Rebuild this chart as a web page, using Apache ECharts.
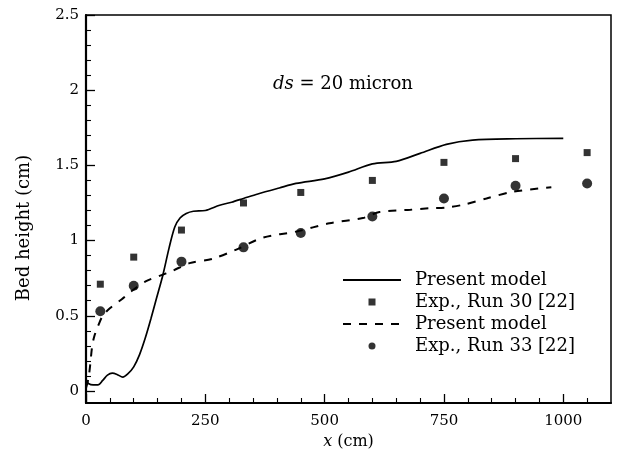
<!DOCTYPE html>
<html>
<head>
<meta charset="utf-8">
<title>Bed height</title>
<script src="https://cdn.jsdelivr.net/npm/echarts@6/dist/echarts.min.js"></script>
<style>
  html, body { margin: 0; padding: 0; background: #fff; }
  #chart { width: 618px; height: 458px; }
</style>
</head>
<body>
<div id="chart"></div>
<script>
// Axis ticks
const xMajorTicks = [0, 250, 500, 750, 1000];
const xMinorTicks = [50, 100, 150, 200, 300, 350, 400, 450, 550, 600, 650, 700, 800, 850, 900, 950, 1050];
const yMajorTicks = [0, 0.5, 1, 1.5, 2, 2.5];
const yMinorTicks = [0.1, 0.2, 0.3, 0.4, 0.6, 0.7, 0.8, 0.9, 1.1, 1.2, 1.3, 1.4,
                     1.6, 1.7, 1.8, 1.9, 2.1, 2.2, 2.3, 2.4];

// Measured bed heights (cm) at stations x (cm)
const expX = [30, 100, 200, 330, 450, 600, 750, 900, 1050];
const run30Y = [0.71, 0.89, 1.07, 1.25, 1.32, 1.40, 1.52, 1.545, 1.585];
const run33Y = [0.53, 0.70, 0.86, 0.955, 1.05, 1.16, 1.28, 1.365, 1.38];

// Computed bed profiles, [x, height]
const modelRun30 = [
  [0, 0.07], [5, 0.05], [15, 0.04], [25, 0.04], [35, 0.07], [45, 0.105], [55, 0.118],
  [65, 0.11], [77, 0.092], [88, 0.115], [100, 0.16], [112, 0.24], [124, 0.35],
  [136, 0.48], [148, 0.62], [161, 0.77], [174, 0.95], [186, 1.09], [197, 1.15],
  [210, 1.18], [225, 1.195], [250, 1.20], [280, 1.235], [305, 1.255], [330, 1.28],
  [360, 1.31], [405, 1.35], [440, 1.38], [500, 1.41], [550, 1.455], [600, 1.51],
  [650, 1.527], [700, 1.58], [755, 1.64], [810, 1.668], [900, 1.677], [1000, 1.68]
];
const modelRun33 = [
  [0, 0.02], [5, 0.08], [9, 0.18], [13, 0.30], [18, 0.37], [25, 0.43], [35, 0.50],
  [50, 0.55], [75, 0.61], [98, 0.67], [126, 0.73], [154, 0.765], [182, 0.80],
  [217, 0.85], [266, 0.88], [315, 0.94], [371, 1.02], [441, 1.06], [510, 1.115],
  [580, 1.15], [615, 1.19], [680, 1.205], [720, 1.215], [755, 1.22], [790, 1.238],
  [839, 1.28], [895, 1.325], [975, 1.355]
];

const FONT = 'DejaVu Serif';
const INK = '#000';

const zip = (xs, ys) => xs.map((x, i) => [x, ys[i]]);

const xBase = {
  type: 'value', min: 0, max: 1100, position: 'bottom',
  splitLine: { show: false }
};
const yBase = {
  type: 'value', min: -0.08, max: 2.5, position: 'left',
  splitLine: { show: false }
};

const chart = echarts.init(document.getElementById('chart'), null, { renderer: 'canvas' });

chart.setOption({
  animation: false,
  backgroundColor: '#fff',
  grid: {
    left: 86, right: 7, top: 15, bottom: 55,
    show: true, borderColor: INK, borderWidth: 1.5, backgroundColor: 'transparent'
  },
  xAxis: [
    Object.assign({}, xBase, {
      name: '{i|x} (cm)',
      nameLocation: 'middle',
      nameGap: 29,
      nameTextStyle: {
        color: INK, fontFamily: FONT, fontSize: 16,
        rich: { i: { fontStyle: 'italic', fontFamily: FONT, fontSize: 16, color: INK } }
      },
      axisLine: { show: true, onZero: false, lineStyle: { color: INK, width: 2 } },
      axisTick: { show: true, inside: true, length: 9, customValues: xMajorTicks,
                  lineStyle: { color: INK, width: 1.3 } },
      axisLabel: { show: true, customValues: xMajorTicks, margin: 11,
                   formatter: v => String(v),
                   color: INK, fontFamily: FONT, fontSize: 15 }
    }),
    Object.assign({}, xBase, {
      axisLine: { show: false, onZero: false },
      axisTick: { show: true, inside: true, length: 5, customValues: xMinorTicks,
                  lineStyle: { color: INK, width: 1.1 } },
      axisLabel: { show: false }
    })
  ],
  yAxis: [
    Object.assign({}, yBase, {
      axisLine: { show: true, onZero: false, lineStyle: { color: INK, width: 2.2 } },
      axisTick: { show: true, inside: true, length: 9, customValues: yMajorTicks,
                  lineStyle: { color: INK, width: 1.3 } },
      axisLabel: { show: true, customValues: yMajorTicks, margin: 7,
                   formatter: v => String(v),
                   color: INK, fontFamily: FONT, fontSize: 15 }
    }),
    Object.assign({}, yBase, {
      axisLine: { show: false, onZero: false },
      axisTick: { show: true, inside: true, length: 5, customValues: yMinorTicks,
                  lineStyle: { color: INK, width: 1.1 } },
      axisLabel: { show: false }
    })
  ],
  legend: {
    orient: 'vertical',
    left: 342, top: 271,
    padding: 0,
    itemGap: 4,
    itemWidth: 58,
    itemHeight: 7,
    selectedMode: false,
    textStyle: { color: INK, fontFamily: FONT, fontSize: 18, padding: [0, 0, 0, 9] },
    formatter: name => name.replace(/ \(Run \d+\)$/, ''),
    data: [
      { name: 'Present model (Run 30)', itemStyle: { opacity: 0 } },
      { name: 'Exp., Run 30 [22]', icon: 'path://M0 0H10V10H0Z' },
      { name: 'Present model (Run 33)', itemStyle: { opacity: 0 } },
      { name: 'Exp., Run 33 [22]', icon: 'circle' }
    ]
  },
  graphic: [
    {
      type: 'text', left: 273, top: 75,
      style: {
        text: '{i|ds} = 20 micron',
        fill: INK, fontFamily: FONT, fontSize: 18,
        rich: { i: { fontStyle: 'italic', fontFamily: FONT, fontSize: 18, fill: INK } }
      }
    },
    {
      type: 'text', x: 24, y: 228, rotation: Math.PI / 2,
      style: {
        text: 'Bed height (cm)', fill: INK, fontFamily: FONT, fontSize: 18,
        align: 'center', verticalAlign: 'middle'
      }
    }
  ],
  series: [
    {
      name: 'Present model (Run 30)', type: 'line', data: modelRun30,
      symbol: 'none', smooth: 0.3, clip: true,
      lineStyle: { color: INK, width: 1.7, type: 'solid' },
      itemStyle: { color: INK }
    },
    {
      name: 'Exp., Run 30 [22]', type: 'scatter', data: zip(expX, run30Y),
      symbol: 'rect', symbolSize: 7,
      itemStyle: { color: INK }
    },
    {
      name: 'Present model (Run 33)', type: 'line', data: modelRun33,
      symbol: 'none', smooth: 0.3, clip: true,
      lineStyle: { color: INK, width: 2, type: [8, 8] },
      itemStyle: { color: INK }
    },
    {
      name: 'Exp., Run 33 [22]', type: 'scatter', data: zip(expX, run33Y),
      symbol: 'circle', symbolSize: 10,
      itemStyle: { color: INK }
    }
  ]
});
</script>
</body>
</html>
